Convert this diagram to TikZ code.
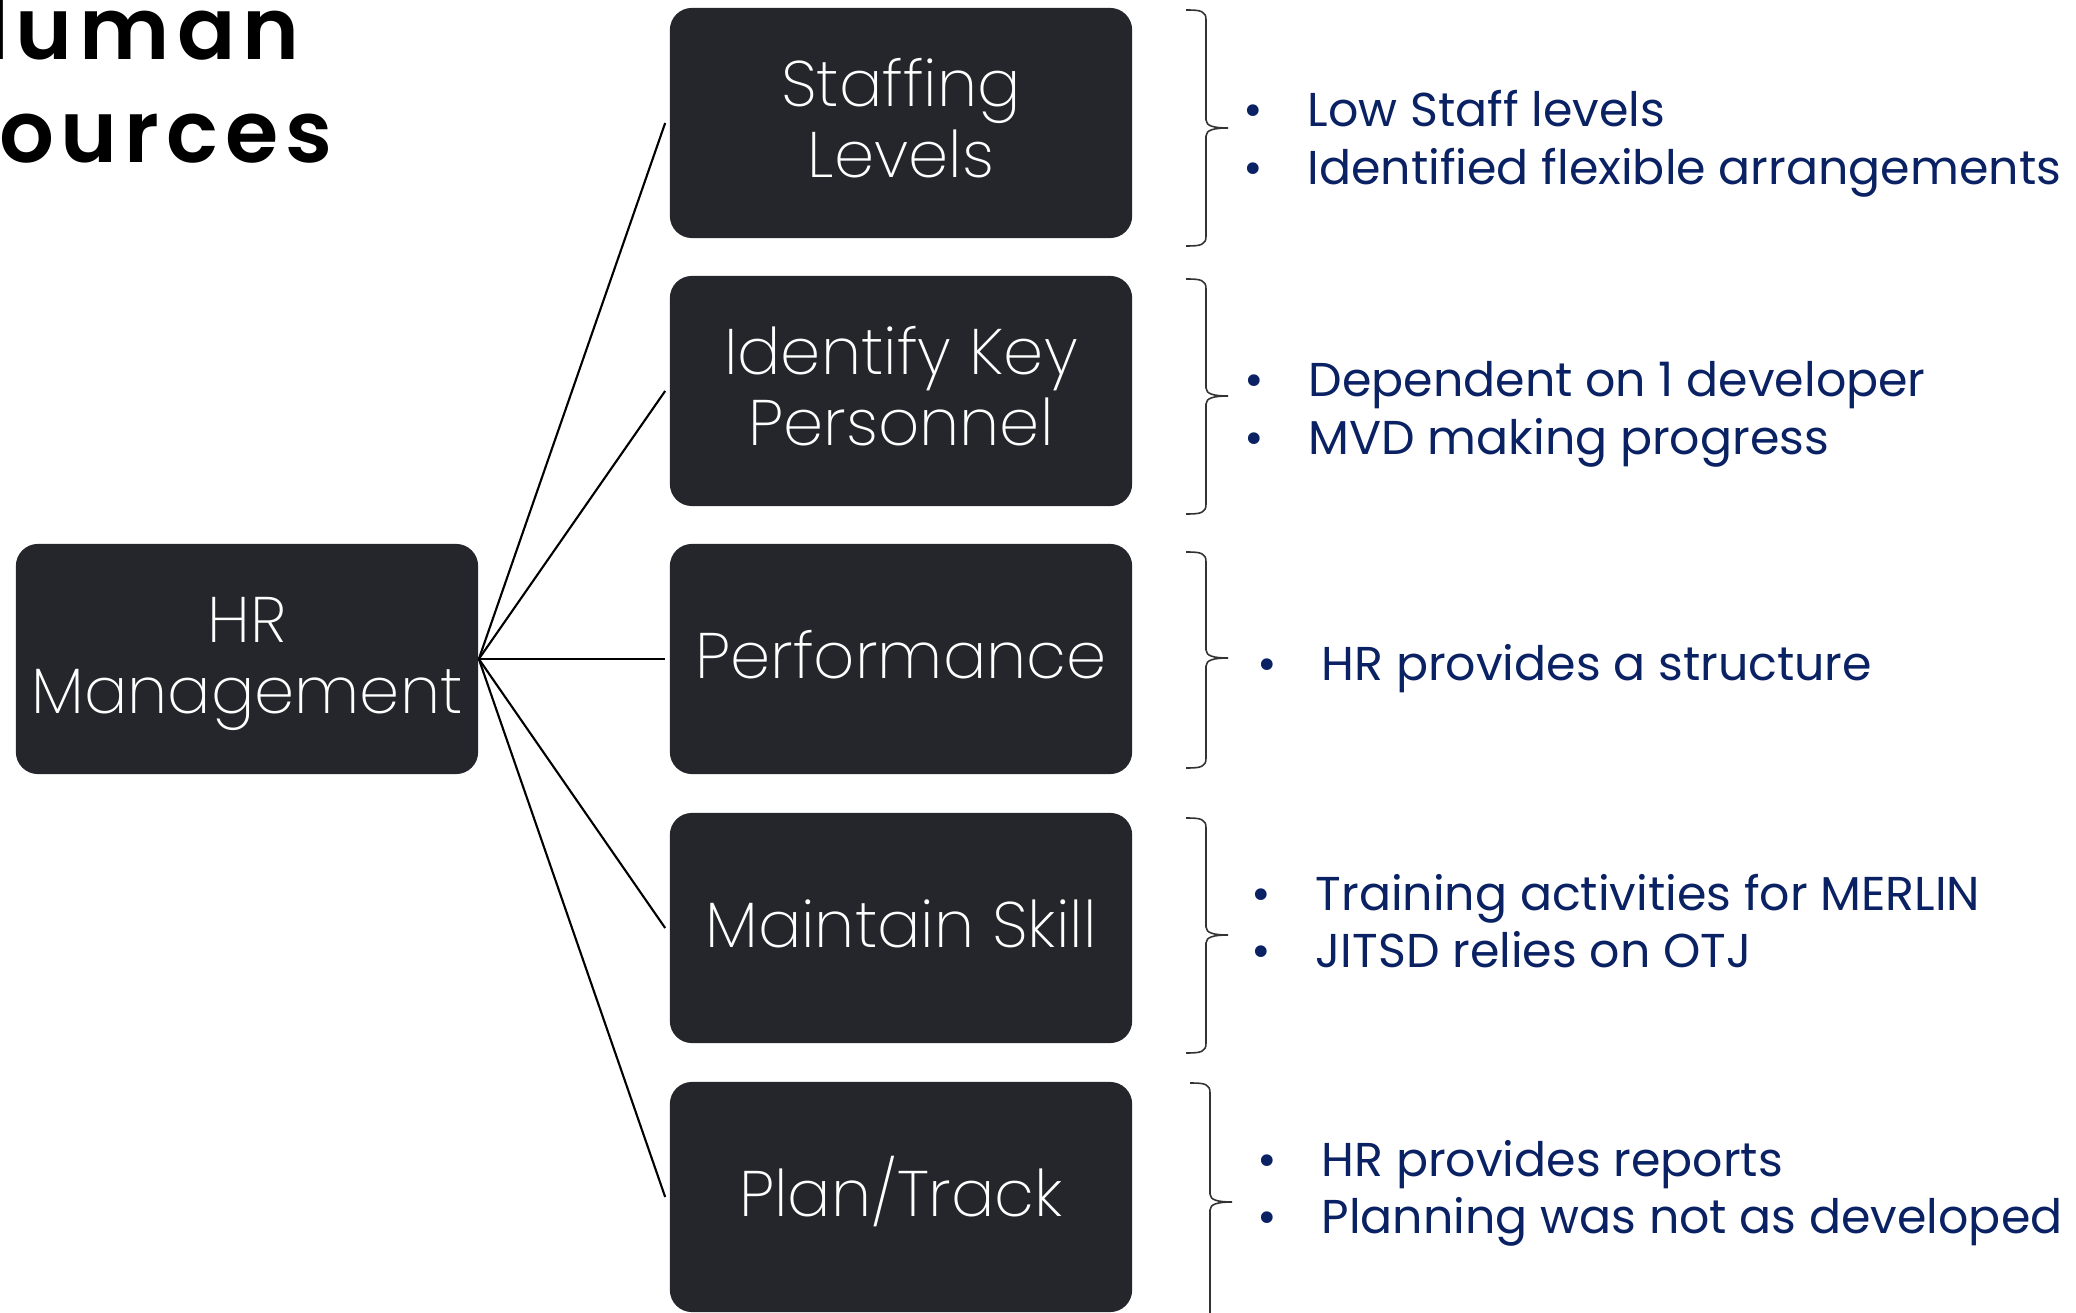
\documentclass[tikz,border=0pt]{standalone}
\usepackage{fontspec}
\setmainfont{Poppins}
\newfontfamily\boxfont{Poppins ExtraLight}
\newfontfamily\titlefont[LetterSpace=8]{Poppins SemiBold}
\definecolor{boxc}{RGB}{37,38,43}
\definecolor{navy}{RGB}{10,34,100}
\newcommand\drawbrace[4]{%
 \draw[bracestyle] (#1-20,#2) .. controls (#1-5,#2) and (#1,#2+1) .. (#1,#2+10) -- (#1,#3-8) .. controls (#1,#3-2) and (#1+8,#3) .. (#1+22,#3) .. controls (#1+8,#3) and (#1,#3+2) .. (#1,#3+8) -- (#1,#4-10) .. controls (#1,#4-1) and (#1-5,#4) .. (#1-20,#4);}
% box text: last baseline placed #1 above the box centre
\newcommand\btext[2]{\makebox[0pt]{\raisebox{#1}[0pt][0pt]{\begin{tabular}[b]{@{}c@{}}#2\end{tabular}}}}
\begin{document}
\begin{tikzpicture}[x=0.01cm,y=-0.01cm,
  hbox/.style={fill=boxc, rounded corners=0.22cm, minimum width=4.62cm, minimum height=2.30cm, text=white, font=\boxfont\fontsize{18.3}{20.06}\selectfont, inner sep=0},
  link/.style={black, line width=0.6pt},
  bracestyle/.style={draw=black!80, line width=0.45pt},
  item/.style={anchor=base west, inner sep=0, text=navy, font=\fontsize{13.5}{16}\selectfont},
  ttl/.style={anchor=base east, inner sep=0, text=black, font=\titlefont\fontsize{24.5}{27}\selectfont}]
\useasboundingbox (0,0) rectangle (2076,1313);
\clip (0,0) rectangle (2076,1313);
\node[ttl] (t1) at (300,60) {Human};
\node[ttl] (t2) at (333,163) {Resources};
\node[hbox] (hr) at (247,659) {\btext{-0.545cm}{HR\\Management}};
\node[hbox] (s1) at (901,123) {\btext{-0.545cm}{Staffing\\Levels}};
\node[hbox] (s2) at (901,391) {\btext{-0.545cm}{Identify Key\\Personnel}};
\node[hbox] (s3) at (901,659) {\btext{-0.19cm}{Performance}};
\node[hbox] (s4) at (901,928) {\btext{-0.19cm}{Maintain Skill}};
\node[hbox] (s5) at (901,1197) {\btext{-0.19cm}{Plan/Track}};
\foreach \b in {s1,s2,s3,s4,s5} \draw[link] (hr.east) -- ([xshift=-0.04cm]\b.west);
\drawbrace{1206}{10}{128}{246}
\drawbrace{1206}{279}{396}{514}
\drawbrace{1206}{552}{658}{768}
\drawbrace{1206}{818}{935}{1053}
\drawbrace{1210}{1083}{1202}{1330}
\newcommand\bul{\llap{\textbullet\hspace{0.45cm}}}
\node[item] (a1) at (1307,127) {\bul Low Staff levels};
\node[item] (a2) at (1307,185) {\bul Identified flexible arrangements};
\node[item] (b1) at (1308,397) {\bul Dependent on 1 developer};
\node[item] (b2) at (1308,455) {\bul MVD making progress};
\node[item] (c1) at (1321,681) {\bul HR provides a structure};
\node[item] (d1) at (1315,910) {\bul Training activities for MERLIN};
\node[item] (d2) at (1315,967) {\bul JITSD relies on OTJ};
\node[item] (e1) at (1321,1176) {\bul HR provides reports};
\node[item] (e2) at (1321,1233) {\bul Planning was not as developed};
\end{tikzpicture}
\end{document}
